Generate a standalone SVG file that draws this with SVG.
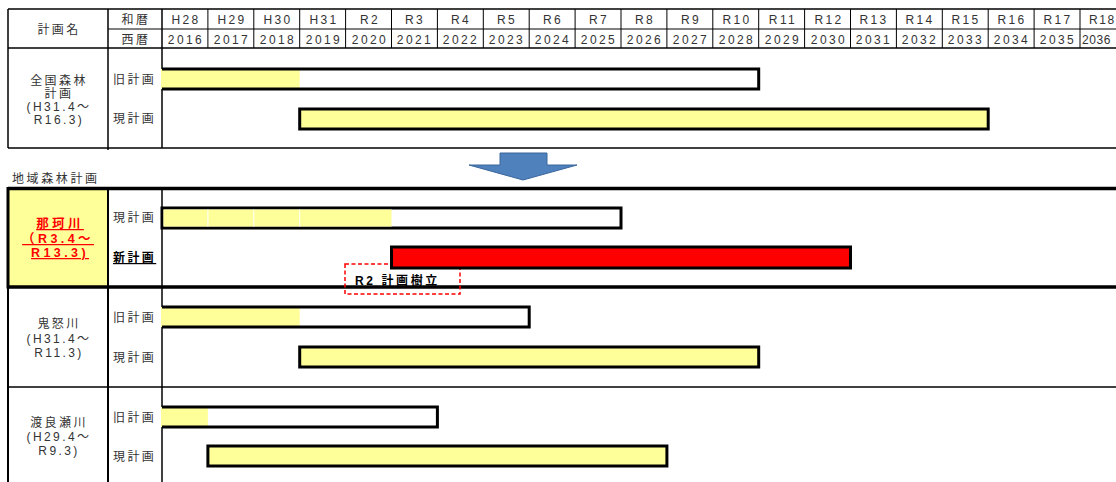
<svg xmlns="http://www.w3.org/2000/svg" width="1116" height="482" viewBox="0 0 1116 482">
<style>
text{font-family:"Liberation Sans","Noto Sans CJK JP",sans-serif;font-size:12px;fill:#333;letter-spacing:2.4px}
.c{text-anchor:middle}
.b{font-weight:bold;fill:#000}
.u{text-decoration:underline}
.red{fill:#ff0000;font-weight:bold;text-decoration:underline;letter-spacing:3.4px;font-size:12.5px}
.ln{stroke:#000;fill:none}
.bar{stroke:#000;stroke-width:3}
.y{fill:#ffff99}
</style>
<rect width="1116" height="482" fill="#fff"/>

<g id="header">
  <g class="ln" stroke-width="1">
    <line x1="108" y1="29" x2="1116" y2="29"/>
    <line x1="207.9" y1="9" x2="207.9" y2="48"/><line x1="253.8" y1="9" x2="253.8" y2="48"/>
    <line x1="299.7" y1="9" x2="299.7" y2="48"/><line x1="345.6" y1="9" x2="345.6" y2="48"/>
    <line x1="391.5" y1="9" x2="391.5" y2="48"/><line x1="437.4" y1="9" x2="437.4" y2="48"/>
    <line x1="483.3" y1="9" x2="483.3" y2="48"/><line x1="529.2" y1="9" x2="529.2" y2="48"/>
    <line x1="575.1" y1="9" x2="575.1" y2="48"/><line x1="621" y1="9" x2="621" y2="48"/>
    <line x1="666.9" y1="9" x2="666.9" y2="48"/><line x1="712.8" y1="9" x2="712.8" y2="48"/>
    <line x1="758.7" y1="9" x2="758.7" y2="48"/><line x1="804.6" y1="9" x2="804.6" y2="48"/>
    <line x1="850.5" y1="9" x2="850.5" y2="48"/><line x1="896.4" y1="9" x2="896.4" y2="48"/>
    <line x1="942.3" y1="9" x2="942.3" y2="48"/><line x1="988.2" y1="9" x2="988.2" y2="48"/>
    <line x1="1034.1" y1="9" x2="1034.1" y2="48"/><line x1="1080" y1="9" x2="1080" y2="48"/>
  </g>
  <g class="ln" stroke-width="1.5">
    <line x1="8" y1="9" x2="1116" y2="9"/>
    <line x1="8" y1="48" x2="1116" y2="48"/>
    <line x1="8" y1="148" x2="1116" y2="148"/>
    <line x1="8" y1="9" x2="8" y2="148"/>
    <line x1="108" y1="9" x2="108" y2="150"/>
    <line x1="162" y1="9" x2="162" y2="148"/>
  </g>
  <text class="c" x="59" y="34">計画名</text>
  <text class="c" x="136" y="24">和暦</text>
  <text class="c" x="136" y="44">西暦</text>
  <g>
    <text class="c" x="186" y="24">H28</text><text class="c" x="232" y="24">H29</text>
    <text class="c" x="278" y="24">H30</text><text class="c" x="324" y="24">H31</text>
    <text class="c" x="370" y="24">R2</text><text class="c" x="415" y="24">R3</text>
    <text class="c" x="461" y="24">R4</text><text class="c" x="507" y="24">R5</text>
    <text class="c" x="553" y="24">R6</text><text class="c" x="599" y="24">R7</text>
    <text class="c" x="645" y="24">R8</text><text class="c" x="691" y="24">R9</text>
    <text class="c" x="737" y="24">R10</text><text class="c" x="783" y="24">R11</text>
    <text class="c" x="829" y="24">R12</text><text class="c" x="874" y="24">R13</text>
    <text class="c" x="920" y="24">R14</text><text class="c" x="966" y="24">R15</text>
    <text class="c" x="1012" y="24">R16</text><text class="c" x="1058" y="24">R17</text>
    <text x="1089" y="24" style="letter-spacing:1.6px">R18</text>
    <text class="c" x="186" y="44">2016</text><text class="c" x="232" y="44">2017</text>
    <text class="c" x="278" y="44">2018</text><text class="c" x="324" y="44">2019</text>
    <text class="c" x="370" y="44">2020</text><text class="c" x="415" y="44">2021</text>
    <text class="c" x="461" y="44">2022</text><text class="c" x="507" y="44">2023</text>
    <text class="c" x="553" y="44">2024</text><text class="c" x="599" y="44">2025</text>
    <text class="c" x="645" y="44">2026</text><text class="c" x="691" y="44">2027</text>
    <text class="c" x="737" y="44">2028</text><text class="c" x="783" y="44">2029</text>
    <text class="c" x="829" y="44">2030</text><text class="c" x="874" y="44">2031</text>
    <text class="c" x="920" y="44">2032</text><text class="c" x="966" y="44">2033</text>
    <text class="c" x="1012" y="44">2034</text><text class="c" x="1058" y="44">2035</text>
    <text x="1082" y="44" style="letter-spacing:0.6px">2036</text>
  </g>
</g>

<g id="national">
  <text class="c" x="59" y="85">全国森林</text>
  <text class="c" x="59" y="98">計画</text>
  <text class="c" x="59" y="111">(H31.4～</text>
  <text class="c" x="59" y="124">R16.3)</text>
  <text x="113" y="84">旧計画</text>
  <text x="113" y="123">現計画</text>
  <rect class="y" x="161" y="69" width="138.7" height="20"/>
  <path class="bar" fill="none" d="M162,69 H758.7 V89 H162"/>
  <rect class="bar y" x="299.7" y="109" width="688.5" height="20"/>
</g>

<g id="arrow">
  <polygon points="500,153 547,153 547,165 577,165 523,180 469,165 500,165" fill="#4f81bd" stroke="#3a669c" stroke-width="1"/>
</g>

<text x="12" y="183" style="letter-spacing:2.6px">地域森林計画</text>

<g id="lines">
  <rect class="y" x="8" y="188.5" width="100" height="98.5"/>
  <g class="ln" stroke-width="1.5">
    <line x1="8" y1="387" x2="1116" y2="387"/>
    <line x1="162" y1="188" x2="162" y2="482"/>
  </g>
  <g class="ln" stroke-width="2">
    <line x1="108" y1="188" x2="108" y2="482"/>
    <line x1="8" y1="287" x2="8" y2="482"/>
  </g>
  <g class="ln" stroke-width="3.5">
    <line x1="8" y1="188.5" x2="1116" y2="188.5"/>
    <line x1="8" y1="287" x2="1116" y2="287"/>
    <line x1="8" y1="187" x2="8" y2="288.5" stroke-width="3"/>
  </g>
</g>

<g id="nakagawa">
  <text class="c red" x="60" y="228">那珂川</text>
  <text class="c red" x="58" y="243"> （R3.4～</text>
  <text class="c red" x="60" y="257">R13.3)</text>
  <text x="113" y="222">現計画</text>
  <text class="b u" x="113" y="262">新計画</text>
  <rect class="bar" fill="#fff" x="162" y="208" width="459" height="20"/>
  <rect class="y" x="163.5" y="209.5" width="228" height="17"/>
  <g stroke="#fff" stroke-width="1">
    <line x1="207.9" y1="209.5" x2="207.9" y2="226.5"/>
    <line x1="253.8" y1="209.5" x2="253.8" y2="226.5"/>
    <line x1="299.7" y1="209.5" x2="299.7" y2="226.5"/>
  </g>
  <rect x="345" y="264" width="115" height="30" fill="none" stroke="#ff0000" stroke-width="1.5" stroke-dasharray="4,2.5"/>
  <text class="b" x="355" y="285" style="letter-spacing:2.6px">R2 計画樹立</text>
  <rect class="bar" fill="#ff0000" x="391.5" y="247" width="459" height="21"/>
</g>

<g id="kinugawa">
  <text class="c" x="59" y="328">鬼怒川</text>
  <text class="c" x="59" y="343">(H31.4～</text>
  <text class="c" x="59" y="357">R11.3)</text>
  <text x="113" y="322">旧計画</text>
  <text x="113" y="362">現計画</text>
  <rect class="y" x="161" y="307" width="138.7" height="20"/>
  <path class="bar" fill="none" d="M162,307 H529.2 V327 H162"/>
  <rect class="bar y" x="299.7" y="347" width="459" height="20"/>
</g>

<g id="watarasegawa">
  <text class="c" x="59" y="427">渡良瀬川</text>
  <text class="c" x="59" y="441">(H29.4～</text>
  <text class="c" x="59" y="455">R9.3)</text>
  <text x="113" y="422">旧計画</text>
  <text x="113" y="461">現計画</text>
  <rect class="y" x="161" y="407" width="46.9" height="20"/>
  <path class="bar" fill="none" d="M162,407 H437.4 V427 H162"/>
  <rect class="bar y" x="207.9" y="446" width="459" height="20"/>
</g>
</svg>
